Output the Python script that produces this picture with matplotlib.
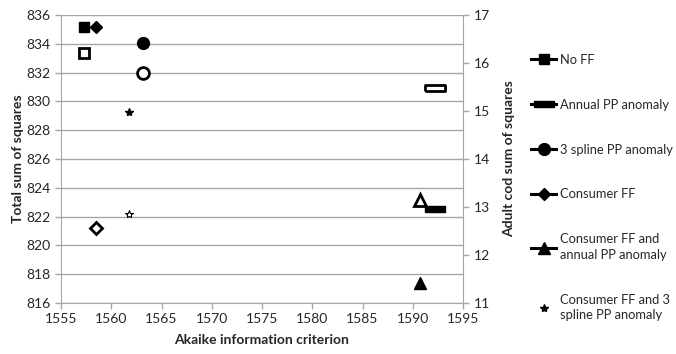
import matplotlib
matplotlib.use("Agg")
import matplotlib.pyplot as plt
from matplotlib.lines import Line2D

plt.rcParams["font.family"] = ["Lato", "DejaVu Sans"]

# ── Data ──────────────────────────────────────────────────────────────────────
models = ["No FF", "Annual PP anomaly", "3 spline PP anomaly", "Consumer FF",
          "Consumer FF and\nannual PP anomaly", "Consumer FF and 3\nspline PP anomaly"]
aic = [1557.3, 1592.2, 1563.2, 1558.5, 1590.7, 1561.8]
total_ss = [835.2, 822.5, 834.05, 835.2, 817.4, 829.25]
cod_ss = [16.2, 15.48, 15.79, 12.56, 13.15, 12.85]

dash = [(-1, -0.3), (1, -0.3), (1, 0.3), (-1, 0.3), (-1, -0.3)]
markers = ["s", dash, "o", "D", "^", "*"]
sizes = [7.5, 14, 8.5, 6.5, 8, 6]

grey = "#a6a6a6"
txt = "#262626"

fig = plt.figure(figsize=(6.76, 3.54), dpi=100)
ax = fig.add_axes([61 / 676, 1 - 303 / 354, 402 / 676, 288 / 354])
ax2 = ax.twinx()

for x, y1, y2, m, s in zip(aic, total_ss, cod_ss, markers, sizes):
    ax.plot([x], [y1], marker=m, ms=s, color="black", mfc="black", mec="black",
            ls="none", zorder=3)
    ax2.plot([x], [y2], marker=m, ms=s, color="black", mfc="white", mec="black",
             mew=2 if m != "*" else 0.8, ls="none", zorder=3)

ax.set_xlim(1555, 1595)
ax.set_ylim(816, 836)
ax2.set_ylim(11, 17)
ax.set_xticks(range(1555, 1596, 5))
ax.set_yticks(range(816, 837, 2))
ax2.set_yticks(range(11, 18))
ax.yaxis.grid(True, color=grey, lw=1)
ax.set_axisbelow(True)

for a in (ax, ax2):
    for sp in a.spines.values():
        sp.set_visible(False)
    a.tick_params(colors=grey, labelcolor=txt, labelsize=10, length=4, width=1)
ax.spines["left"].set_visible(True)
ax.spines["left"].set_color(grey)
ax.spines["bottom"].set_visible(True)
ax.spines["bottom"].set_color(grey)
ax2.spines["right"].set_visible(True)
ax2.spines["right"].set_color(grey)

ax.set_xlabel("Akaike information criterion", fontsize=10, fontweight="bold",
              color=txt, labelpad=6)
ax.set_ylabel("Total sum of squares", fontsize=10, fontweight="bold", color=txt,
              labelpad=2)
ax2.set_ylabel("Adult cod sum of squares", fontsize=10, fontweight="bold",
               color=txt, labelpad=10)

# ── Legend ────────────────────────────────────────────────────────────────────
handles = []
for m, s in zip(markers, sizes):
    if m == "*":
        handles.append(Line2D([], [], marker=m, ms=s, color="black", ls="none"))
    else:
        handles.append(Line2D([], [], marker=m, ms=s, color="black", lw=2.2,
                              mfc="black", mec="black"))
leg = fig.legend(handles, models, loc="upper left",
                 bbox_to_anchor=(519 / 676, 1 - 42 / 354),
                 frameon=False, fontsize=9.3, labelspacing=2.55, handlelength=2.0,
                 handletextpad=0.25, labelcolor=txt)
for t in leg.get_texts():
    t.set_linespacing(1.35)

fig.savefig("out.png", dpi=100)
